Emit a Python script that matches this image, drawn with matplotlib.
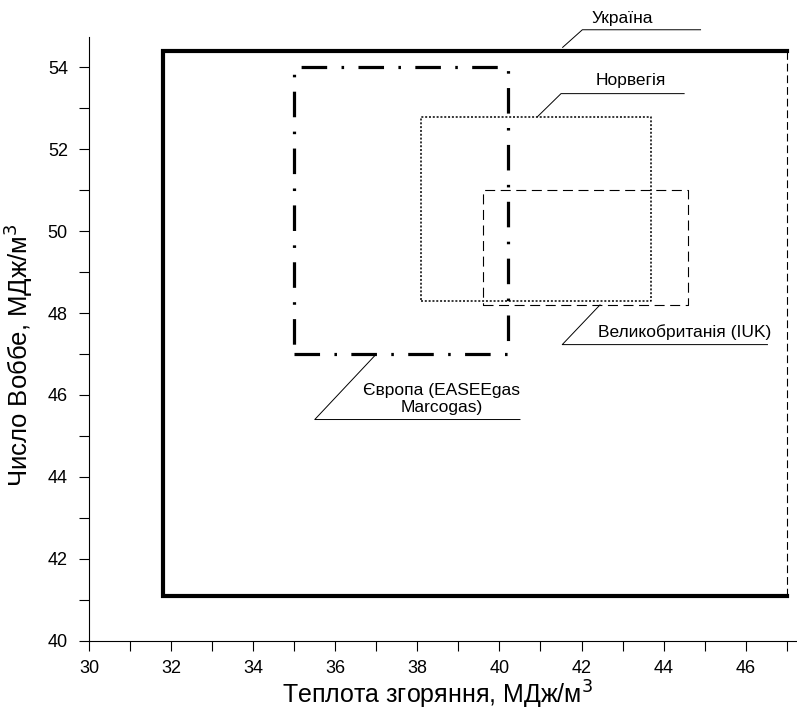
import matplotlib
matplotlib.use("Agg")
import matplotlib.pyplot as plt
from matplotlib.ticker import MultipleLocator

plt.rcParams['font.family'] = ['Liberation Sans', 'DejaVu Sans']

# ranges (x: теплота згоряння, y: число Воббе)
ukr_x = [31.8, 47.0]
ukr_y = [41.1, 54.4]
eur_x = [35.0, 40.2]
eur_y = [47.0, 54.0]
nor_x = [38.1, 43.7]
nor_y = [48.3, 52.8]
uk_x = [39.6, 44.6]
uk_y = [48.2, 51.0]

fig = plt.figure(figsize=(7.97, 7.13), dpi=100)
ax = fig.add_axes([0.1117, 0.1015, 0.8883, 0.847])

def rect(x, y, **kw):
    xs = [x[0], x[1], x[1], x[0], x[0]]
    ys = [y[0], y[0], y[1], y[1], y[0]]
    ax.plot(xs, ys, color='black', **kw)

# Україна: three thick sides + thin dashed right side
ax.plot([ukr_x[1], ukr_x[0], ukr_x[0], ukr_x[1]],
        [ukr_y[1], ukr_y[1], ukr_y[0], ukr_y[0]],
        color='black', lw=3.0, solid_capstyle='projecting', solid_joinstyle='miter')
ax.plot([ukr_x[1], ukr_x[1]], [ukr_y[0], ukr_y[1]], color='black', lw=0.8,
        dashes=(7, 3.5))

rect(eur_x, eur_y, lw=2.3, dashes=(8, 4.5, 0.8, 4.5))
rect(nor_x, nor_y, lw=1.1, dashes=(1.3, 1.2))
rect(uk_x, uk_y, lw=0.8, dashes=(9, 5))

# leader lines and labels
def leader(p0, p1, p2, text, tx, ty):
    ax.plot([p0[0], p1[0], p2[0]], [p0[1], p1[1], p2[1]], color='black',
            lw=0.7, clip_on=False)
    ax.text(tx, ty, text, ha='center', va='bottom', fontsize=12.5,
            linespacing=1.1, clip_on=False)

leader((41.54, 54.49), (42.02, 54.92), (44.9, 54.92), 'Україна', 43.0, 55.02)
leader((40.93, 52.8), (41.5, 53.36), (44.5, 53.36), 'Норвегія', 43.2, 53.5)
leader((42.45, 48.2), (41.53, 47.23), (46.53, 47.23), 'Великобританія (IUK)', 44.5, 47.35)
leader((37.0, 47.0), (35.5, 45.4), (40.5, 45.4), 'Європа (EASEEgas\nMarcogas)', 38.6, 45.52)

ax.set_xlim(30, 47.25)
ax.set_ylim(40, 54.75)
ax.xaxis.set_major_locator(MultipleLocator(2))
ax.xaxis.set_minor_locator(MultipleLocator(1))
ax.yaxis.set_major_locator(MultipleLocator(2))
ax.yaxis.set_minor_locator(MultipleLocator(1))
ax.tick_params(which='both', direction='out', length=7.2, width=0.8, labelsize=13)
ax.tick_params(axis='x', pad=7)
ax.tick_params(axis='y', pad=8)
for s in ['top', 'right']:
    ax.spines[s].set_visible(False)

ax.set_xlabel('Теплота згоряння, МДж/м$^3$', fontsize=18, va='baseline')
ax.set_ylabel('Число Воббе, МДж/м$^3$', fontsize=18.5)
ax.xaxis.set_label_coords(0.492, -0.104)
ax.yaxis.set_label_coords(-0.076, 0.473)

fig.savefig('out.png', dpi=100)
